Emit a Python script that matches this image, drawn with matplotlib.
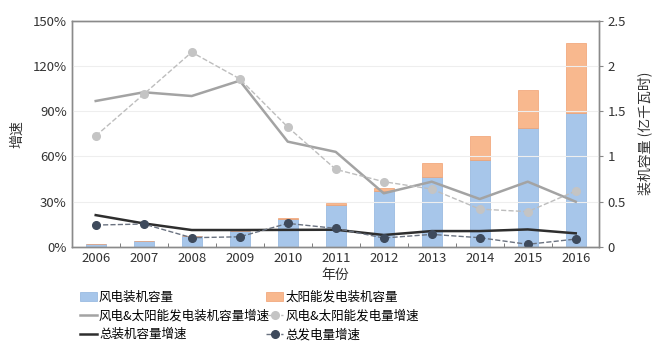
import numpy as np
import matplotlib.pyplot as plt

plt.rcParams['font.family'] = ['Noto Sans CJK SC', 'DejaVu Sans']

years = ['2006', '2007', '2008', '2009', '2010', '2011', '2012', '2013', '2014', '2015', '2016']

# 装机容量 (亿千瓦)
wind_cap = [0.026, 0.059, 0.12, 0.176, 0.31, 0.46, 0.615, 0.77, 0.965, 1.31, 1.48]
solar_cap = [0.001, 0.001, 0.002, 0.003, 0.008, 0.025, 0.04, 0.16, 0.26, 0.43, 0.77]

# 增速 (%)
ws_cap_growth = [96.8, 102.6, 100.1, 110.3, 69.8, 63.0, 35.5, 43.2, 31.7, 43.2, 29.9]
ws_gen_growth = [73.6, 101.3, 129.2, 111.5, 79.5, 51.4, 43.2, 38.3, 25.0, 23.3, 37.0]
total_cap_growth = [21.0, 15.5, 11.1, 11.1, 11.2, 11.3, 7.8, 10.4, 10.4, 11.5, 8.9]
total_gen_growth = [14.4, 15.1, 6.0, 6.6, 15.5, 12.2, 5.8, 8.2, 6.0, 1.6, 5.1]

x = np.arange(len(years))

fig = plt.figure(figsize=(6.58, 3.54), dpi=100)
ax = fig.add_axes([0.109, 0.303, 0.801, 0.638])
ax2 = ax.twinx()

# bars on the right axis
b1 = ax2.bar(x, wind_cap, width=0.42, color='#a7c6ea', edgecolor='#8fb3de', linewidth=0.5,
             label='风电装机容量')
b2 = ax2.bar(x, solar_cap, width=0.42, bottom=wind_cap, color='#f8b88e', edgecolor='#f0a070',
             linewidth=0.5, label='太阳能发电装机容量')
ax2.set_ylim(0, 2.5)
ax2.set_yticks([0, 0.5, 1, 1.5, 2, 2.5])
ax2.set_yticklabels(['0', '0.5', '1', '1.5', '2', '2.5'])
ax2.set_ylabel('装机容量 (亿千瓦时)', fontsize=10, color='#333333', labelpad=8)

# lines on the left axis, drawn above the bars
ax.set_zorder(ax2.get_zorder() + 1)
ax.patch.set_visible(False)

l1, = ax.plot(x, ws_cap_growth, color='#a3a3a3', linewidth=1.8, label='风电&太阳能发电装机容量增速')
l2, = ax.plot(x, ws_gen_growth, color='#bdbdbd', linewidth=1, linestyle='--', marker='o',
              markersize=5.5, markerfacecolor='#c4c4c4', markeredgecolor='#c4c4c4',
              label='风电&太阳能发电量增速')
l3, = ax.plot(x, total_cap_growth, color='#2e2e2e', linewidth=1.8, label='总装机容量增速')
l4, = ax.plot(x, total_gen_growth, color='#6a7280', linewidth=1, linestyle='--', marker='o',
              markersize=5.5, markerfacecolor='#3e4a5c', markeredgecolor='#3e4a5c',
              label='总发电量增速')

ax.set_xlim(-0.48, 10.48)
ax.set_ylim(0, 150)
ax.set_yticks([0, 30, 60, 90, 120, 150])
ax.set_yticklabels(['0%', '30%', '60%', '90%', '120%', '150%'])
ax.set_xticks(x)
ax.set_xticklabels(years)
ax.set_xticks(np.arange(-0.5, 10.5, 1), minor=True)
ax.tick_params(axis='x', which='major', length=0, labelsize=9.5, colors='#333333', pad=4)
ax.tick_params(axis='x', which='minor', length=3, direction='in', color='#666666')
ax.tick_params(axis='y', length=0, labelsize=9.5, colors='#333333')
ax2.tick_params(axis='y', length=3, direction='out', labelsize=9.5, colors='#333333', color='#888888')
ax.grid(axis='y', color='#eeeeee', linewidth=0.8)
ax.set_axisbelow(True)

for a in (ax, ax2):
    for s in a.spines.values():
        s.set_color('#8a8a8a')
        s.set_linewidth(1)

ax.set_ylabel('增速', fontsize=10, color='#333333', labelpad=6)
ax.set_xlabel('年份', fontsize=10, color='#333333', labelpad=2)

handles = [b1, l1, l3, b2, l2, l4]
labels = [h.get_label() for h in handles]
fig.legend(handles, labels, ncol=2, loc='upper left', bbox_to_anchor=(0.122, 0.178),
           frameon=False, fontsize=9, handlelength=1.3, handletextpad=0.2,
           columnspacing=-0.3, labelspacing=0.45, borderaxespad=0, borderpad=0)

plt.savefig('out.png', dpi=100)
